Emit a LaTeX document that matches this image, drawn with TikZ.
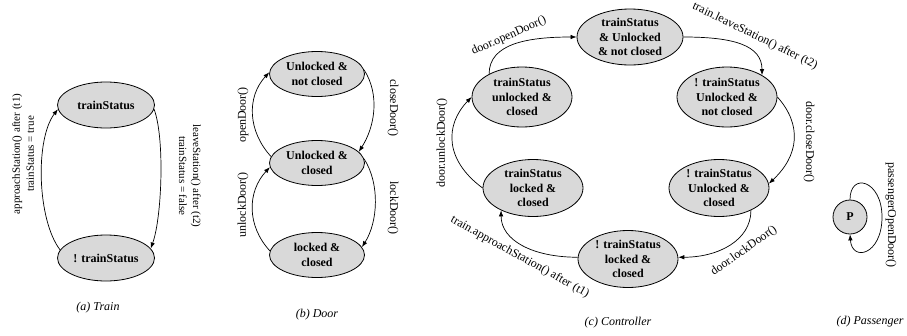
\documentclass[tikz,border=0pt]{standalone}
\usepackage{fontspec}
\setmainfont{Liberation Serif}
\usetikzlibrary{shapes.geometric,arrows.meta}
\definecolor{stgray}{HTML}{D9D9D9}
\begin{document}
\begin{tikzpicture}[x=1pt,y=-1pt,
  st/.style={ellipse,draw,line width=0.8pt,fill=stgray,inner sep=-4pt,align=center,font=\fontsize{12}{14.5}\selectfont\bfseries},
  lbl/.style={font=\fontsize{12}{14.5}\selectfont,align=center,inner sep=0pt},
  lbls/.style={font=\fontsize{11}{14}\selectfont,align=center,inner sep=0pt},
  captxt/.style={font=\fontsize{12}{14.5}\selectfont\itshape,inner sep=0pt},
  tr/.style={draw,line width=0.7pt,-{Latex[length=6pt,width=4.5pt]}}]
\useasboundingbox (0,0) rectangle (907,335);
% (a) Train
\node[st,minimum width=97,minimum height=46] (T1) at (106,105) {trainStatus};
\node[st,minimum width=97,minimum height=46] (T2) at (106,258) {! trainStatus};
\draw[tr] (T2.170) .. controls +(-23,-30) and +(-23,30) .. (T1.185);
\draw[tr] (T1.355) .. controls +(11,30) and +(11,-30) .. (T2.12);
\node[lbls,rotate=90] (lt1) at (23,154) {approachStation() after (t1)\\trainStatus = true};
\node[lbls,rotate=-90] (lt2) at (190,176) {leaveStation() after (t2)\\trainStatus = false};
\node[captxt] (ca) at (98,308) {(a) Train};
% (b) Door
\node[st,minimum width=95,minimum height=45] (D1) at (317,74) {Unlocked \&\\not closed};
\node[st,minimum width=95,minimum height=45] (D2) at (317,163) {Unlocked \&\\closed};
\node[st,minimum width=95,minimum height=45] (D3) at (317,255) {locked \&\\closed};
\draw[tr] (D2.172) .. controls +(-23,-25) and +(-23,25) .. (D1.178);
\draw[tr] (D1.5) .. controls +(16,25) and +(16,-25) .. (D2.15);
\draw[tr] (D3.175) .. controls +(-23,-25) and +(-23,25) .. (D2.185);
\draw[tr] (D2.5) .. controls +(16,25) and +(16,-25) .. (D3.10);
\node[lbl,rotate=90] (lo) at (243,115) {openDoor()};
\node[lbl,rotate=-90] (lc) at (393,108) {closeDoor()};
\node[lbl,rotate=90] (lu) at (243,205) {unlockDoor()};
\node[lbl,rotate=-90] (ll) at (393,208) {lockDoor()};
\node[captxt] (cb) at (317,315) {(b) Door};
% (c) Controller
\node[st,minimum width=106,minimum height=56] (C1) at (630,37) {trainStatus\\\& Unlocked\\\& not closed};
\node[st,minimum width=100,minimum height=60] (C2) at (522,97) {trainStatus\\unlocked \&\\closed};
\node[st,minimum width=100,minimum height=57] (C3) at (533,188) {trainStatus\\locked \&\\closed};
\node[st,minimum width=100,minimum height=57] (C4) at (628,259) {! trainStatus\\locked \&\\closed};
\node[st,minimum width=100,minimum height=60] (C5) at (727,97) {! trainStatus\\Unlocked \&\\not closed};
\node[st,minimum width=100,minimum height=57] (C6) at (719,188) {! trainStatus\\Unlocked \&\\closed};
\draw[tr] (C2.145) .. controls +(0,-30) and +(-50,0) .. (C1.180);
\draw[tr] (C1.0) .. controls +(50,0) and +(0,-30) .. (C5.32);
\draw[tr] (C5.0) .. controls +(25,28) and +(30,-28) .. (C6.5);
\draw[tr] (C6.-35) .. controls +(0,30) and +(40,0) .. (C4.2);
\draw[tr] (C4.178) .. controls +(-45,0) and +(0,30) .. (C3.215);
\draw[tr] (C3.180) .. controls +(-38,-28) and +(-27,28) .. (C2.180);
\node[lbl,rotate=24] (lc1) at (509,36) {door.openDoor()};
\node[lbl,rotate=-26] (lc2) at (755,36) {train.leaveStation() after (t2)};
\node[lbl,rotate=-90] (lc3) at (809,142) {door.closeDoor()};
\node[lbl,rotate=35] (lc4) at (744,251) {door.lockDoor()};
\node[lbl,rotate=-29] (lc5) at (520,257) {train.approachStation() after (t1)};
\node[lbl,rotate=90] (lc6) at (442,143) {door.unlockDoor()};
\node[captxt] (cc) at (618,323) {(c) Controller};
% (d) Passenger
\node[st,circle,minimum size=34] (P) at (850,217) {P};
\coordinate (Pr) at (882,217);
\draw[tr] (P.north) .. controls +(0,-28) and +(0,-37) .. (Pr) .. controls +(0,38) and +(2,28) .. (P.south);
\node[lbl,rotate=-90] (lp) at (891,215) {passengerOpenDoor()};
\node[captxt] (cd) at (870,322) {(d) Passenger};
\end{tikzpicture}
\end{document}
